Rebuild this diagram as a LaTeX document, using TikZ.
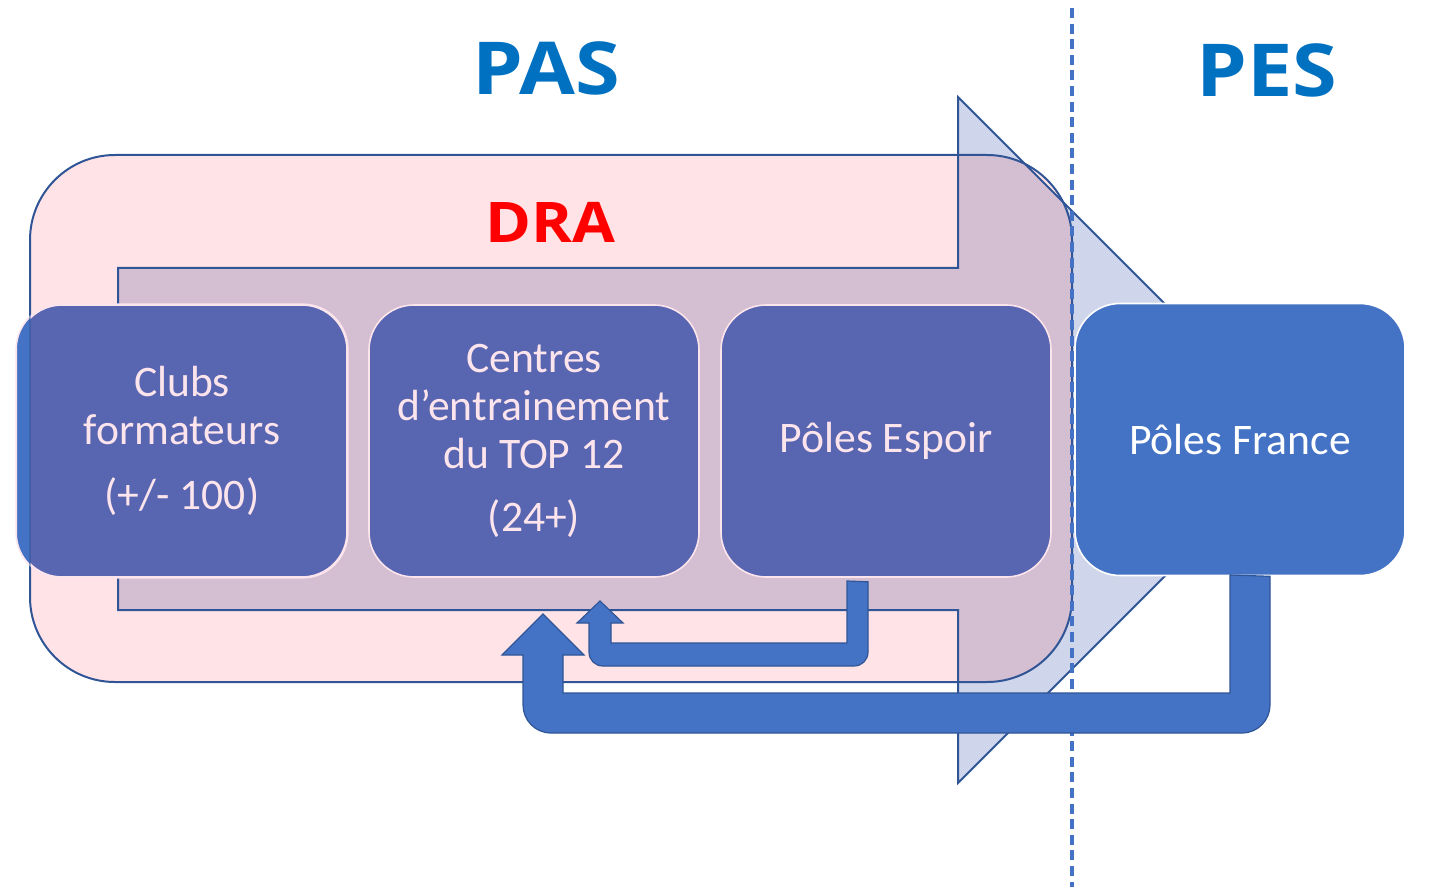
\documentclass[tikz,border=0pt]{standalone}
\usepackage{fontspec}
\setmainfont{Carlito}
\newfontfamily\headfont{Open Sans}[FakeStretch=1.11]
\usetikzlibrary{calc}
\definecolor{pinkfill}{HTML}{FFE3E6}
\definecolor{mauve}{HTML}{D4BED2}
\definecolor{lavender}{HTML}{CFD5EA}
\definecolor{darkline}{HTML}{2F5597}
\definecolor{boxpurple}{HTML}{5865B0}
\definecolor{accent}{HTML}{4472C4}
\definecolor{boxtext}{HTML}{FCE4EC}
\definecolor{titleblue}{HTML}{0070C0}
\definecolor{drared}{HTML}{FF0000}
\tikzset{
  box/.style={draw=boxtext, line width=0.8pt, fill=boxpurple, rounded corners=22.5pt,
    minimum width=165pt, minimum height=136pt, inner sep=0pt, align=center,
    text=boxtext, font=\fontsize{21.8}{24}\selectfont},
  francebox/.style={box, fill=accent, draw=white, text=white},
  heading/.style={anchor=base, inner sep=0pt, font=\headfont\bfseries\fontsize{36.5}{40}\selectfont},
  outline/.style={draw=darkline, line width=1pt},
  uarrow/.style={fill=accent, draw=darkline, line width=0.6pt, line join=miter},
  divider/.style={draw=accent, line width=1.7pt, dash pattern=on 5pt off 2.8pt},
}
\begin{document}
\begin{tikzpicture}[x=0.5pt,y=-0.5pt]
\useasboundingbox (0,0) rectangle (1438,887);
% big block arrow (fill)
\fill[lavender] (118,268) -- (958,268) -- (958,97) -- (1301,440) -- (958,783) -- (958,610) -- (118,610) -- cycle;
% DRA area
\fill[pinkfill, rounded corners=42.5pt] (30,155) rectangle (1072,682);
\begin{scope}
  \clip (118,268) -- (958,268) -- (958,97) -- (1301,440) -- (958,783) -- (958,610) -- (118,610) -- cycle;
  \fill[mauve, rounded corners=42.5pt] (30,155) rectangle (1072,682);
\end{scope}
\draw[outline, line join=miter] (118,268) -- (958,268) -- (958,97) -- (1301,440) -- (958,783) -- (958,610) -- (118,610) -- cycle;
\draw[outline, rounded corners=42.5pt] (30,155) rectangle (1072,682);
% titles
\node[heading, text=titleblue] (pas) at (546,95) {PAS};
\node[heading, text=titleblue] (pes) at (1267,97) {PES};
\node[heading, text=drared, font=\headfont\bfseries\fontsize{28}{32}\selectfont] (dra) at (550,243) {DRA};
% dashed divider
\draw[divider] (1072,8) -- (1072,887);
% boxes
\node[box] (clubs) at (182,441) {Clubs\\formateurs\\[8.5pt](+/- 100)};
\begin{scope}
  \clip (0,0) rectangle (30,887);
  \fill[accent, rounded corners=22.5pt] (clubs.south west) rectangle (clubs.north east);
\end{scope}
\draw[boxtext, line width=0.8pt, rounded corners=22.5pt] (clubs.south west) rectangle (clubs.north east);
\draw[darkline, line width=1pt, opacity=0.45] (30,305) -- (30,577);
\node[box] (centres) at (534,441) {Centres\\d’entrainement\\du TOP 12\\[7.5pt](24+)};
\node[box] (espoir) at (886,441) {Pôles Espoir};
\node[francebox] (france) at (1240,439.5) {Pôles France};
% return arrow from Pôles Espoir
\coordinate (es) at ($(espoir.south)+(-18,4)$);
\coordinate (estip) at (600,601);
\draw[uarrow] (es) -- (868,652) .. controls (868,660) and (862,666) .. (854,666) -- (603,666)
  .. controls (595,666) and (589,660) .. (589,652) -- (589,623) -- (577,623) -- (estip) -- (623,623)
  -- (611,623) -- (611,643) -- (847,643) -- (847,581) -- cycle;
% return arrow from Pôles France
\coordinate (fr) at ($(france.south)+(30,0)$);
\coordinate (frtip) at (543,614);
\draw[uarrow] (fr) -- (1270,705) .. controls (1270,720) and (1258,733) .. (1242,733) -- (551,733)
  .. controls (535,733) and (523,720) .. (523,705) -- (523,655) -- (502,655) -- (frtip) -- (584,655)
  -- (563,655) -- (563,693) -- (1230,693) -- (1230,575) -- cycle;
\end{tikzpicture}
\end{document}
